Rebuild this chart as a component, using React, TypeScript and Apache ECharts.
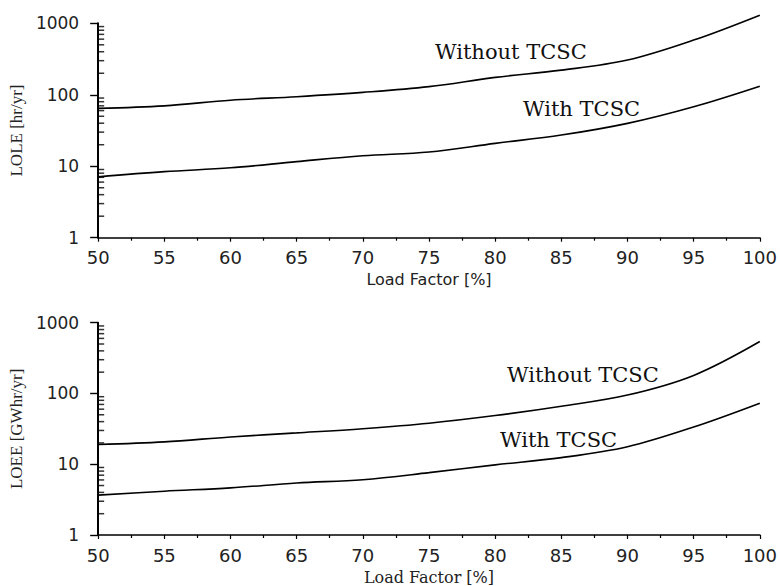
import React, { useEffect, useRef } from "react";
import * as echarts from "echarts";

const loadFactor = [50, 55, 60, 65, 70, 75, 80, 85, 90, 95, 100];
const loleWithout = [64.5, 70, 84, 94, 108, 130, 175, 221, 306, 582, 1300];
const loleWith = [7.1, 8.4, 9.5, 11.6, 14, 15.8, 20.9, 27.3, 39.8, 68, 132];
const loeeWithout = [19, 20.7, 24.3, 27.7, 31.8, 38, 48.7, 66, 95, 180, 542];
const loeeWith = [3.66, 4.16, 4.63, 5.43, 6.04, 7.6, 9.8, 12.4, 17.7, 33.6, 73];
const minorLogTicks = [2, 3, 4, 5, 6, 7, 8, 9, 20, 30, 40, 50, 60, 70, 80, 90, 200, 300, 400, 500, 600, 700, 800, 900];
const xMin = 50;
const xMax = 100;
const yMin = 1;
const yMax = 1000;

const pair = (ys: number[]) => loadFactor.map((x, i) => [x, ys[i]]);

export default function App() {
  const ref = useRef<HTMLDivElement>(null);
  useEffect(() => {
    if (!ref.current) return;
    const chart = echarts.init(ref.current, undefined, { renderer: "svg" });
    const xAxisBase = (idx: number, serifName: boolean) => ({
      type: "value",
      gridIndex: idx,
      min: xMin,
      max: xMax,
      interval: 5,
      name: "Load Factor [%]",
      nameLocation: "middle",
      nameGap: 34,
      nameTextStyle: {
        fontFamily: serifName ? "DejaVu Serif" : "DejaVu Sans",
        fontSize: 16,
        color: "#222",
      },
      axisLine: { show: true, lineStyle: { color: "#000", width: 1.6 } },
      axisTick: { show: true, length: 4, lineStyle: { color: "#000", width: 1.2 } },
      minorTick: { show: true, splitNumber: 2, length: 3, lineStyle: { color: "#000", width: 1.2 } },
      splitLine: { show: false },
      axisLabel: {
        fontFamily: "DejaVu Sans",
        fontSize: 18,
        color: "#222",
        margin: 11,
        formatter: (v: number) => String(Math.round(v)),
      },
    });
    const yAxisBase = (idx: number, name: string) => ({
      type: "log",
      logBase: 10,
      gridIndex: idx,
      min: yMin,
      max: yMax,
      name,
      nameLocation: "middle",
      nameRotate: 90,
      nameGap: 58,
      nameTextStyle: { fontFamily: "Liberation Serif", fontSize: 17, color: "#222" },
      axisLine: { show: true, lineStyle: { color: "#000", width: 2 } },
      axisTick: { show: true, length: 8, lineStyle: { color: "#000", width: 1.4 } },
      splitLine: { show: false },
      axisLabel: {
        fontFamily: "DejaVu Sans",
        fontSize: 17,
        color: "#222",
        margin: 19,
        formatter: (v: number) => String(Math.round(v)),
      },
    });
    const lineSeries = (idx: number, name: string, ys: number[], clip: boolean) => ({
      type: "line",
      name,
      xAxisIndex: idx,
      yAxisIndex: idx,
      data: pair(ys),
      symbol: "none",
      smooth: 0.35,
      clip,
      lineStyle: { color: "#000", width: 1.6 },
      silent: true,
    });
    const minorSeries = (idx: number) => ({
      type: "scatter",
      xAxisIndex: idx,
      yAxisIndex: idx,
      data: minorLogTicks.map((v) => [xMin, v]),
      symbol: "rect",
      symbolSize: [6, 1.5],
      symbolOffset: [3, 0],
      itemStyle: { color: "#000" },
      silent: true,
      z: 5,
    });
    const annotation = (x: number, y: number, text: string) => ({
      type: "text",
      x,
      y,
      style: {
        text,
        fontFamily: "DejaVu Serif",
        fontSize: 21,
        fill: "#111",
        textAlign: "left",
        textVerticalAlign: "middle",
      },
    });
    chart.setOption({
      animation: false,
      backgroundColor: "#fff",
      grid: [
        { left: 97, top: 23.3, width: 663, height: 214.4 },
        { left: 97, top: 322.7, width: 663, height: 215 },
      ],
      xAxis: [xAxisBase(0, false), xAxisBase(1, true)],
      yAxis: [yAxisBase(0, "LOLE [hr/yr]"), yAxisBase(1, "LOEE [GWhr/yr]")],
      series: [
        lineSeries(0, "Without TCSC", loleWithout, false),
        lineSeries(0, "With TCSC", loleWith, true),
        lineSeries(1, "Without TCSC", loeeWithout, true),
        lineSeries(1, "With TCSC", loeeWith, true),
        minorSeries(0),
        minorSeries(1),
      ],
      graphic: [
        annotation(435, 52, "Without TCSC"),
        annotation(523, 108.5, "With TCSC"),
        annotation(507, 375, "Without TCSC"),
        annotation(500, 440, "With TCSC"),
      ],
    });
    return () => chart.dispose();
  }, []);
  return (
    <div
      ref={ref}
      style={{ position: "absolute", left: 0, top: 0, width: 780, height: 586 }}
    />
  );
}
